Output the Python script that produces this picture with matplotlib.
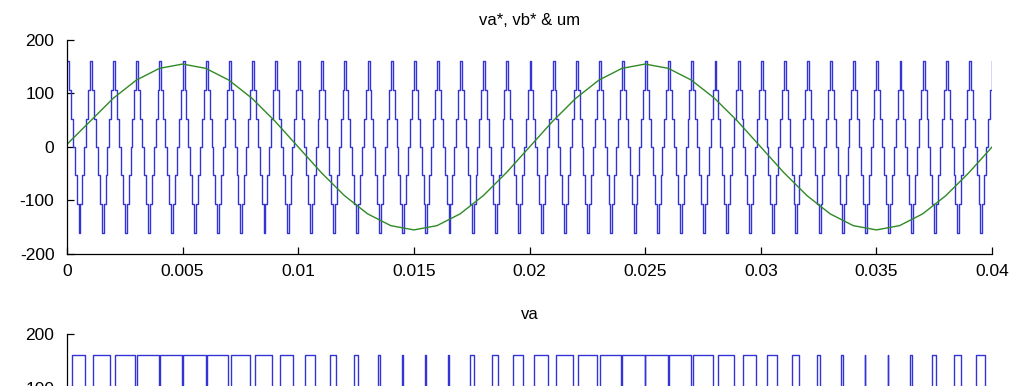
import numpy as np
import matplotlib
matplotlib.use("Agg")
import matplotlib.pyplot as plt

plt.rcParams['font.family'] = ['Liberation Sans', 'DejaVu Sans']

# stepped carrier: one period of levels (12 samples / 1 ms), repeated 40 times
carrier_step = 1.0 / 12000
carrier_period_levels = [160, 107, 53, 0, -53, -107, -160, -107, -53, 0, 53, 107]
n_periods = 40

# reference voltage, one value per ms
ref_t = np.arange(41) * 0.001
ref_vals = [5, 48, 91, 125, 147, 155, 147, 125, 91, 48,
            0, -48, -91, -125, -147, -155, -147, -125, -91, -48,
            0, 48, 91, 125, 147, 155, 147, 125, 91, 48,
            0, -48, -91, -125, -147, -155, -147, -125, -91, -48, 0]

# va pulse widths (ms) for each carrier period, pulse centred in the period
pulse_widths = [0.58, 0.72, 0.84, 0.93, 0.98, 0.98, 0.93, 0.84, 0.72, 0.58,
                0.42, 0.28, 0.16, 0.07, 0.02, 0.02, 0.07, 0.16, 0.28, 0.42,
                0.58, 0.72, 0.84, 0.93, 0.98, 0.98, 0.93, 0.84, 0.72, 0.58,
                0.42, 0.28, 0.16, 0.07, 0.02, 0.02, 0.07, 0.16, 0.28, 0.42]
va_high, va_low = 160, -160

xticks = [0, 0.005, 0.01, 0.015, 0.02, 0.025, 0.03, 0.035, 0.04]
xtick_labels = ['0', '0.005', '0.01', '0.015', '0.02', '0.025', '0.03', '0.035', '0.04']
yticks = [-200, -100, 0, 100, 200]
ytick_labels = ['-200', '-100', '0', '100', '200']

carrier = np.append(np.tile(carrier_period_levels, n_periods), carrier_period_levels[0])
carrier_t = np.arange(len(carrier)) * carrier_step

va_t, va = [], []
for k, w in enumerate(pulse_widths):
    c = (k + 0.5) * 0.001
    va_t += [k * 0.001, c - w * 0.0005, c + w * 0.0005]
    va += [va_low, va_high, va_low]
va_t.append(n_periods * 0.001)
va.append(va_low)

blue = '#3434d6'
green = '#2f8a25'

fig = plt.figure(figsize=(10.24, 3.86), dpi=100)
ax1 = fig.add_axes([0.0654, 0.342, 0.9034, 0.5544])
# second plot continues below the visible area
ax2 = fig.add_axes([0.0654, 0.1347 - 0.5544, 0.9034, 0.5544])

ax1.plot(carrier_t, carrier, color=blue, lw=1.0, drawstyle='steps-post')
ax1.plot(ref_t, ref_vals, color=green, lw=1.0)
ax1.set_title('va*, vb* & um', fontsize=12, pad=11)

ax2.plot(va_t, va, color=blue, lw=1.0, drawstyle='steps-post')
ax2.set_title('va', fontsize=12, pad=11)

for ax in (ax1, ax2):
    ax.set_xlim(0, 0.04)
    ax.set_ylim(-200, 200)
    ax.set_xticks(xticks)
    ax.set_xticklabels(xtick_labels)
    ax.spines['top'].set_visible(False)
    ax.spines['right'].set_visible(False)
    ax.spines['left'].set_linewidth(0.9)
    ax.spines['bottom'].set_linewidth(0.9)
    ax.tick_params(direction='in', length=5, width=0.9, labelsize=12.5)
    ax.tick_params(axis='y', pad=9)
    ax.tick_params(axis='x', pad=7)

ax1.set_yticks(yticks)
ax1.set_yticklabels(ytick_labels)
# only the top two ticks of the lower plot fall inside the picture
ax2.set_yticks(yticks[3:])
ax2.set_yticklabels(ytick_labels[3:])
ax2.tick_params(axis='x', labelbottom=False)

fig.savefig('out.png', dpi=100)
